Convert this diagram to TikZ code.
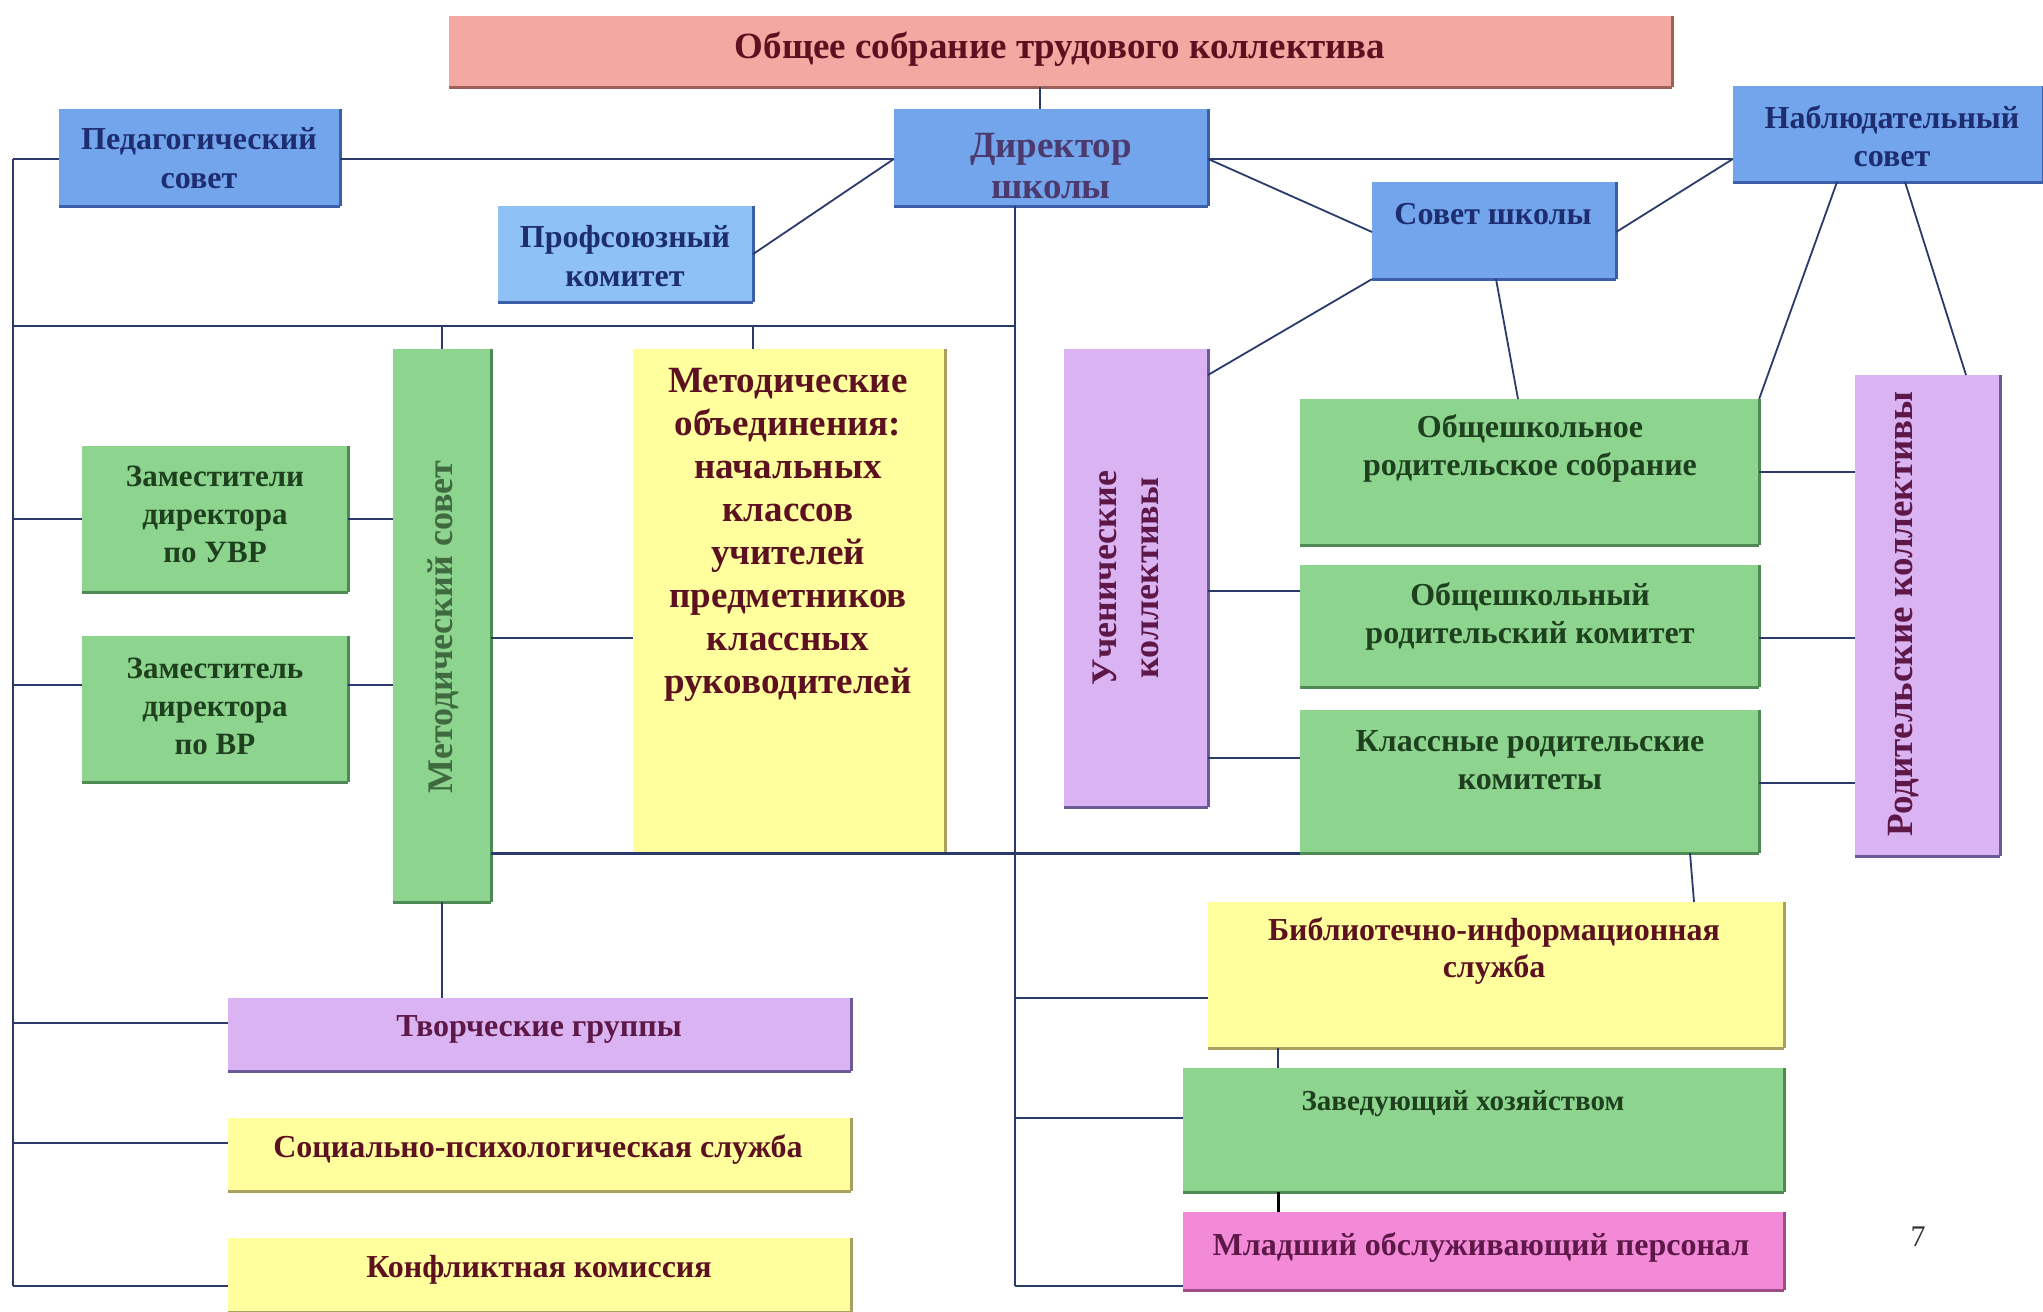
\documentclass[tikz,border=0pt]{standalone}
\usepackage{fontspec}
\setmainfont{Liberation Serif}
\definecolor{cTitle}{HTML}{F2A9A2}
\definecolor{cBlue}{HTML}{72A5EC}
\definecolor{cBlueL}{HTML}{8EC2F4}
\definecolor{cGreen}{HTML}{8DD48F}
\definecolor{cYellow}{HTML}{FFFF9E}
\definecolor{cViolet}{HTML}{DAB4F2}
\definecolor{cPink}{HTML}{F28AD8}
\definecolor{eTitle}{HTML}{A0605A}
\definecolor{eBlue}{HTML}{3A5FA8}
\definecolor{eGreen}{HTML}{4F8A55}
\definecolor{eYellow}{HTML}{A8A060}
\definecolor{eViolet}{HTML}{6A5A9A}
\definecolor{ePink}{HTML}{A04A8A}
\definecolor{lineC}{HTML}{2B3A6B}
\definecolor{tMaroon}{HTML}{5C1020}
\definecolor{tNavy}{HTML}{1E2C70}
\definecolor{tDir}{HTML}{4C3A6E}
\definecolor{tGreen}{HTML}{1E401E}
\definecolor{tGreenL}{HTML}{3F6A3F}
\definecolor{tPurple}{HTML}{5E1848}
\newcommand{\fsz}[2]{\fontsize{#1}{#2}\selectfont\bfseries}
\tikzset{
  x=1pt, y=-1pt,
  bx/.style={rectangle, inner sep=0pt, draw=none},
  edgeshade/.style={append after command={(\tikzlastnode.south west) edge[draw=#1,line width=3pt] (\tikzlastnode.south east) (\tikzlastnode.south east) edge[draw=#1,line width=3pt] (\tikzlastnode.north east)}},
  tx/.style={inner sep=0pt, align=center},
  ln/.style={draw=lineC, line width=2.6pt},
  lt/.style={draw=lineC, line width=1.8pt},
}
\begin{document}
\begin{tikzpicture}
\useasboundingbox (0,0) rectangle (2043,1312);
\fill[white] (0,0) rectangle (2043,1312);

% ---------- boxes ----------
\node[bx, fill=cTitle, minimum width=1223pt, minimum height=71pt, edgeshade=eTitle] (title) at (1060.5,51.5) {};
\node[bx, fill=cBlue, minimum width=281pt, minimum height=97pt, edgeshade=eBlue] (ped) at (199.5,157.5) {};
\node[bx, fill=cBlue, minimum width=314pt, minimum height=97pt, edgeshade=eBlue] (dir) at (1051,157.5) {};
\node[bx, fill=cBlueL, minimum width=255pt, minimum height=96pt, edgeshade=eBlue] (prof) at (625.5,254) {};
\node[bx, fill=cBlue, minimum width=310pt, minimum height=96pt, edgeshade=eBlue] (nab) at (1888,134) {};
\node[bx, fill=cBlue, minimum width=244pt, minimum height=97pt, edgeshade=eBlue] (sov) at (1494,230.5) {};
\node[bx, fill=cGreen, minimum width=98pt, minimum height=553pt, edgeshade=eGreen] (msov) at (442,625.5) {};
\node[bx, fill=cYellow, minimum width=312pt, minimum height=504pt, edgeshade=eYellow] (mobj) at (789,601) {};
\node[bx, fill=cGreen, minimum width=266pt, minimum height=146pt, edgeshade=eGreen] (zuvr) at (215,519) {};
\node[bx, fill=cGreen, minimum width=266pt, minimum height=146pt, edgeshade=eGreen] (zvr) at (215,709) {};
\node[bx, fill=cViolet, minimum width=144pt, minimum height=458pt, edgeshade=eViolet] (uch) at (1136,578) {};
\node[bx, fill=cGreen, minimum width=459pt, minimum height=146pt, edgeshade=eGreen] (osob) at (1529.5,472) {};
\node[bx, fill=cGreen, minimum width=459pt, minimum height=122pt, edgeshade=eGreen] (okom) at (1529.5,626) {};
\node[bx, fill=cGreen, minimum width=459pt, minimum height=143pt, edgeshade=eGreen] (kls) at (1529.5,781.5) {};
\node[bx, fill=cViolet, minimum width=145pt, minimum height=481pt, edgeshade=eViolet] (rod) at (1927.5,615.5) {};
\node[bx, fill=cYellow, minimum width=576pt, minimum height=146pt, edgeshade=eYellow] (bib) at (1496,975) {};
\node[bx, fill=cGreen, minimum width=601pt, minimum height=124pt, edgeshade=eGreen] (zav) at (1483.5,1130) {};
\node[bx, fill=cPink, minimum width=601pt, minimum height=78pt, edgeshade=ePink] (mlad) at (1483.5,1251) {};
\node[bx, fill=cViolet, minimum width=623pt, minimum height=73pt, edgeshade=eViolet] (tvor) at (539.5,1034.5) {};
\node[bx, fill=cYellow, minimum width=623pt, minimum height=73pt, edgeshade=eYellow] (soc) at (539.5,1154.5) {};
\node[bx, fill=cYellow, minimum width=623pt, minimum height=74pt, edgeshade=eYellow] (konf) at (539.5,1275) {};

% ---------- junction coordinates ----------
\coordinate (L0) at (13,159);
\coordinate (L1) at (13,326);
\coordinate (Lz1) at (13,519);
\coordinate (Lz2) at (13,685);
\coordinate (Lt) at (13,1023);
\coordinate (Ls) at (13,1143);
\coordinate (Lend) at (13,1286);
\coordinate (T) at (1040,87);
\coordinate (D) at (1015,206);
\coordinate (Dend) at (1015,1286);
\coordinate (Db) at (1015,998);
\coordinate (Dz) at (1015,1118);
\coordinate (MO) at (753,326);
\coordinate (Mr) at (491,638);
\coordinate (Sw) at (1372,232);
\coordinate (Ut) at (1208,375);
\coordinate (Sb) at (1496,279);
\coordinate (Ot) at (1518,399);
\coordinate (Nb1) at (1837,182);
\coordinate (Nb2) at (1905,182);
\coordinate (Rt) at (1966,375);
\coordinate (U1) at (1208,591);
\coordinate (U2) at (1208,758);
\coordinate (R1) at (1759,472);
\coordinate (R2) at (1759,638);
\coordinate (R3) at (1759,783);
\coordinate (Kb) at (1690,853);
\coordinate (Bt) at (1694,902);
\coordinate (Bz) at (1278,1048);

% ---------- connectors ----------
\draw[ln] (L0) -- (Lend);
\draw[ln] (L0) -- (L0 -| ped.west);
\draw[ln] (L0 -| ped.east) -- (L0 -| dir.west);
\draw[ln] (T) -- (T |- dir.north);
\draw[lt] (prof.east) -- (L0 -| dir.west);
\draw[ln] (L1) -- (L1 -| D);
\draw[ln] (D) -- (Dend);
\draw[ln] (L1 -| msov.north) -- (msov.north);
\draw[ln] (MO) -- (MO |- mobj.north);
\draw[ln] (msov.south) -- (msov.south |- tvor.north);
\draw[ln] (Lz1) -- (Lz1 -| zuvr.west);
\draw[ln] (Lz1 -| zuvr.east) -- (Lz1 -| msov.west);
\draw[ln] (Lz2) -- (Lz2 -| zvr.west);
\draw[ln] (Lz2 -| zvr.east) -- (Lz2 -| msov.west);
\draw[ln] (Mr) -- (Mr -| mobj.west);
\draw[ln] (kls.south -| msov.east) -- (kls.south west);
\draw[ln] (Lt) -- (Lt -| tvor.west);
\draw[ln] (Ls) -- (Ls -| soc.west);
\draw[ln] (Lend) -- (Lend -| konf.west);
\draw[ln] (L0 -| dir.east) -- (L0 -| nab.west);
\draw[lt] (L0 -| dir.east) -- (Sw);
\draw[lt] (L0 -| nab.west) -- (Sw -| sov.east);
\draw[lt] (sov.south west) -- (Ut);
\draw[lt] (Sb) -- (Ot);
\draw[lt] (Nb1) -- (osob.north east);
\draw[lt] (Nb2) -- (Rt);
\draw[ln] (U1) -- (U1 -| okom.west);
\draw[ln] (U2) -- (U2 -| kls.west);
\draw[ln] (R1) -- (R1 -| rod.west);
\draw[ln] (R2) -- (R2 -| rod.west);
\draw[ln] (R3) -- (R3 -| rod.west);
\draw[lt] (Kb) -- (Bt);
\draw[ln] (Db) -- (Db -| bib.west);
\draw[ln] (Dz) -- (Dz -| zav.west);
\draw[ln] (Dend) -- (Dend -| mlad.west);
\draw[lt] (Bz) -- (Bz |- zav.north);
\draw[draw=black, line width=3pt] (Bz |- zav.south) -- (Bz |- mlad.north);

% ---------- texts ----------
\node[tx, text=tMaroon, font=\fsz{37}{44}] (titleT) at (1060,49) {Общее собрание трудового коллектива};
\node[tx, text=tNavy, font=\fsz{32}{39}] (pedT) at (199,158) {Педагогический\\совет};
\node[tx, text=tDir, font=\fsz{37}{41}] (dirT) at (1051,166) {Директор\\школы};
\node[tx, text=tNavy, font=\fsz{32}{39}] (profT) at (625,256) {Профсоюзный\\комитет};
\node[tx, text=tNavy, font=\fsz{32}{38}] (nabT) at (1892,136) {Наблюдательный\\совет};
\node[tx, text=tNavy, font=\fsz{32}{38}] (sovT) at (1493,214) {Совет школы};
\node[tx, text=tGreenL, rotate=90, font=\fsz{36}{38}] (msovT) at (443,627) {Методический совет};
\node[tx, text=tMaroon, font=\fsz{37}{43}] (mobjT) at (788,535) {Методические\\объединения:\\начальных\\классов\\учителей\\предметников\\классных\\руководителей};
\node[tx, text=tGreen, font=\fsz{31}{38}] (zuvrT) at (215,514) {Заместители\\директора\\по УВР};
\node[tx, text=tGreen, font=\fsz{31}{38}] (zvrT) at (215,706) {Заместитель\\директора\\по ВР};
\node[tx, text=tPurple, rotate=90, font=\fsz{36}{42}] (uchT) at (1126,578) {Ученические\\коллективы};
\node[tx, text=tGreen, font=\fsz{32}{38}] (osobT) at (1530,448) {Общешкольное\\родительское собрание};
\node[tx, text=tGreen, font=\fsz{32}{38}] (okomT) at (1530,616) {Общешкольный\\родительский комитет};
\node[tx, text=tGreen, font=\fsz{32}{38}] (klsT) at (1530,760) {Классные родительские\\комитеты};
\node[tx, text=tPurple, rotate=90, font=\fsz{37}{42}] (rodT) at (1904,614) {Родительские коллективы};
\node[tx, text=tMaroon, font=\fsz{32}{37}] (bibT) at (1494,951) {Библиотечно-информационная\\служба};
\node[tx, text=tGreen, font=\fsz{29}{36}] (zavT) at (1463,1104) {Заведующий хозяйством};
\node[tx, text=tPurple, font=\fsz{32}{36}] (mladT) at (1481,1247) {Младший обслуживающий персонал};
\node[tx, text=tPurple, font=\fsz{32}{36}] (tvorT) at (539,1029) {Творческие группы};
\node[tx, text=tMaroon, font=\fsz{32}{38}] (socT) at (538,1149) {Социально-психологическая служба};
\node[tx, text=tMaroon, font=\fsz{32}{38}] (konfT) at (539,1270) {Конфликтная комиссия};
\node[tx, text=black!80, font=\fontsize{30}{36}\selectfont] (pageT) at (1918,1237) {7};
\end{tikzpicture}
\end{document}
